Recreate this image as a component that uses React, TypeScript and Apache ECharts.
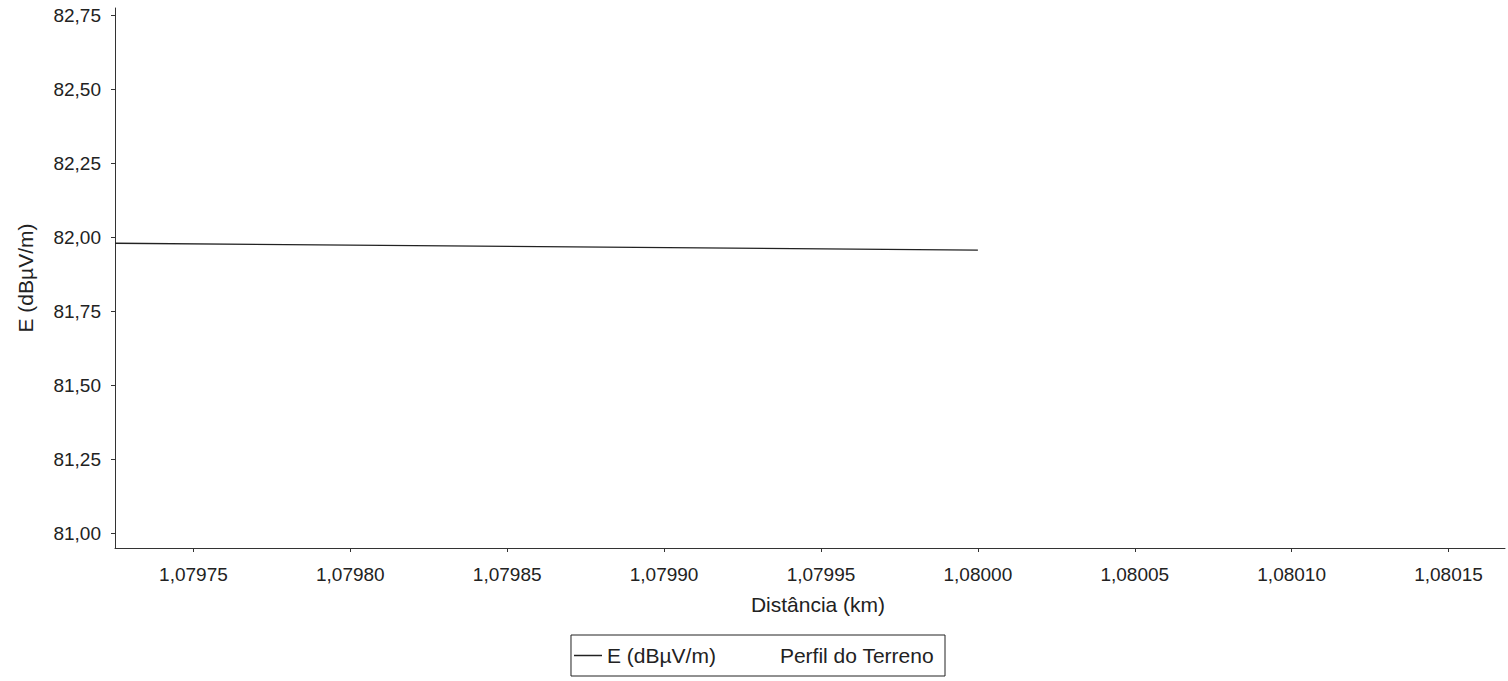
import React, { useEffect, useRef } from "react";
import * as echarts from "echarts";

const xTicks = [1.07975, 1.0798, 1.07985, 1.0799, 1.07995, 1.08, 1.08005, 1.0801, 1.08015];
const yTicks = [81.0, 81.25, 81.5, 81.75, 82.0, 82.25, 82.5, 82.75];
const distanceKm = [1.079725, 1.08];
const fieldE = [81.98, 81.957];
const seriesNames = ["E (dBµV/m)", "Perfil do Terreno"];

export default function App() {
  const ref = useRef<HTMLDivElement>(null);
  useEffect(() => {
    if (!ref.current) return;
    const chart = echarts.init(ref.current, null, { renderer: "svg" });
    const font = "'Liberation Sans', Arial, sans-serif";
    chart.setOption({
      animation: false,
      backgroundColor: "#ffffff",
      textStyle: { fontFamily: font },
      grid: { left: 115, right: 3, top: 8, bottom: 133, containLabel: false },
      xAxis: {
        type: "value",
        min: 1.079725,
        max: 1.080168,
        name: "Distância (km)",
        nameLocation: "middle",
        nameGap: 46,
        nameTextStyle: { fontSize: 21, color: "#222", fontFamily: font, padding: [0, 0, 0, 16] },
        axisLine: { show: true, lineStyle: { color: "#333", width: 1 } },
        axisTick: { show: true, length: 4, customValues: xTicks, lineStyle: { color: "#333" } },
        axisLabel: {
          customValues: xTicks,
          formatter: (v: number) => v.toFixed(5).replace(".", ","),
          fontSize: 19,
          color: "#222",
          margin: 17,
          fontFamily: font,
        },
        splitLine: { show: false },
      },
      yAxis: {
        type: "value",
        min: 80.95,
        max: 82.775,
        name: "E (dBµV/m)",
        nameLocation: "middle",
        nameGap: 79,
        nameRotate: 90,
        nameTextStyle: { fontSize: 21, color: "#222", fontFamily: font },
        axisLine: { show: true, lineStyle: { color: "#333", width: 1 } },
        axisTick: { show: true, length: 4, customValues: yTicks, lineStyle: { color: "#333" } },
        axisLabel: {
          customValues: yTicks,
          formatter: (v: number) => v.toFixed(2).replace(".", ","),
          fontSize: 19,
          color: "#222",
          margin: 14,
          fontFamily: font,
        },
        splitLine: { show: false },
      },
      legend: {
        bottom: 5,
        left: "center",
        orient: "horizontal",
        borderColor: "#222",
        borderWidth: 1,
        borderRadius: 0,
        padding: [10, 11, 10, 3],
        itemGap: 31,
        itemWidth: 28,
        itemHeight: 1.5,
        textStyle: { fontSize: 21, color: "#222", fontFamily: font },
        data: [
          { name: seriesNames[0], icon: "rect", itemStyle: { color: "#222" } },
          { name: seriesNames[1], icon: "rect", itemStyle: { color: "rgba(0,0,0,0)" } },
        ],
      },
      series: [
        {
          name: seriesNames[0],
          type: "line",
          data: distanceKm.map((x, i) => [x, fieldE[i]]),
          showSymbol: false,
          lineStyle: { color: "#222", width: 1.3 },
          itemStyle: { color: "#222" },
        },
        {
          name: seriesNames[1],
          type: "line",
          data: [],
          showSymbol: false,
          lineStyle: { color: "rgba(0,0,0,0)", width: 0 },
          itemStyle: { color: "rgba(0,0,0,0)" },
        },
      ],
    });
    return () => chart.dispose();
  }, []);
  return (
    <div
      ref={ref}
      style={{ position: "absolute", left: 0, top: 0, width: 1508, height: 681 }}
    />
  );
}
